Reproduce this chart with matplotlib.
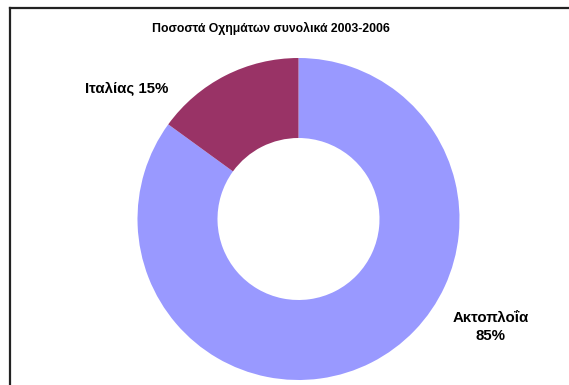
import matplotlib.pyplot as plt
from matplotlib.lines import Line2D

plt.rcParams['font.family'] = ['Liberation Sans', 'DejaVu Sans']

# Share of vehicles 2003-2006
names = ['Ακτοπλοΐα', 'Ιταλίας']
shares = [85, 15]
colors = ['#9999FF', '#993366']

W, H = 569, 385
fig = plt.figure(figsize=(W / 100, H / 100), dpi=100)
ax = fig.add_axes([0, 0, 1, 1])

# donut, Italy wedge ends at 12 o'clock
ax.pie(shares, colors=colors, startangle=90, counterclock=False,
       center=(298.5, H - 219), radius=161,
       wedgeprops=dict(width=80, linewidth=0))
ax.set_xlim(0, W)
ax.set_ylim(0, H)
ax.set_aspect('equal')
ax.axis('off')

ax.text(270.5, H - 28, 'Ποσοστά Οχημάτων συνολικά 2003-2006',
        ha='center', va='center', fontsize=8.85, fontweight='bold')
ax.text(491, H - 327, f'{names[0]}\n{shares[0]}%', ha='center', va='center',
        fontsize=10.8, fontweight='bold', linespacing=1.45)
ax.text(127, H - 89, f'{names[1]} {shares[1]}%', ha='center', va='center',
        fontsize=10.8, fontweight='bold')

# outer chart border (top and left edges)
fig.add_artist(Line2D([9.5 / W, 1], [1 - 7.5 / H] * 2, color='#222222', lw=1.6))
fig.add_artist(Line2D([9.5 / W] * 2, [0, 1 - 7.5 / H], color='#222222', lw=1.6))

fig.savefig('out.png', dpi=100)
